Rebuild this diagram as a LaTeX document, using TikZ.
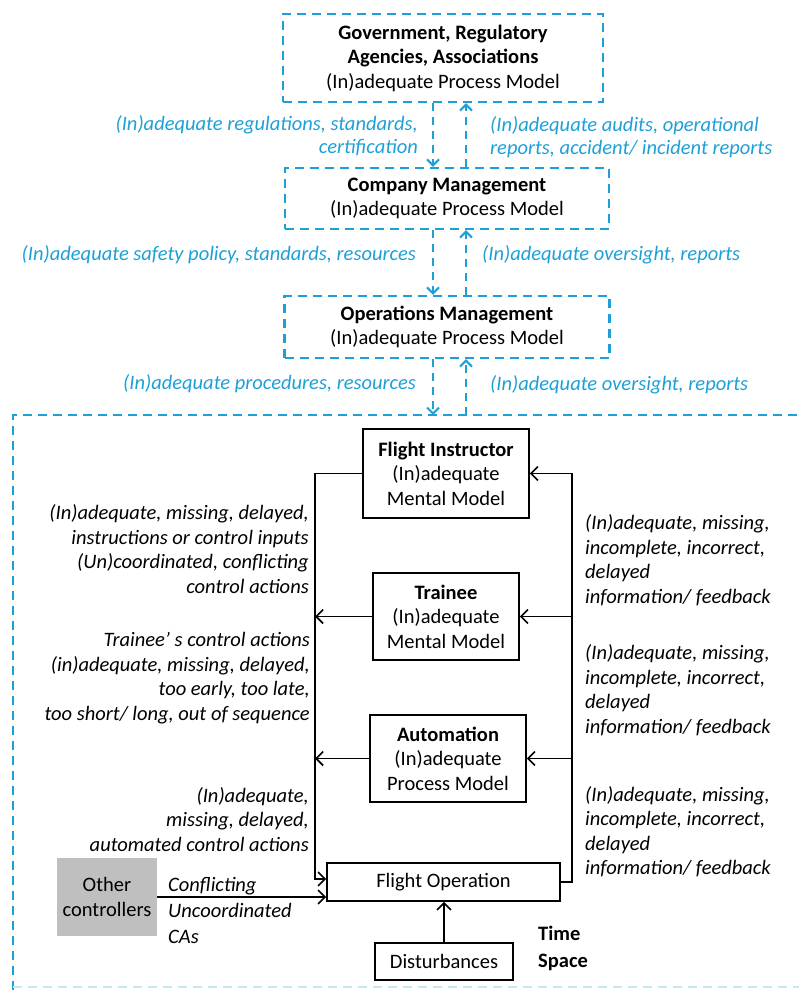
\documentclass[tikz,border=0pt]{standalone}
\usepackage{fontspec}
\setmainfont{Carlito}
\usetikzlibrary{arrows.meta,calc}
\definecolor{bl}{RGB}{30,160,215}
\definecolor{gr}{RGB}{191,191,191}
\tikzset{
 dbox/.style={draw=bl, line width=2.4pt, dash pattern=on 9pt off 6pt, align=center, inner sep=0pt},
 dline/.style={draw=bl, line width=2pt, dash pattern=on 8pt off 6pt, -{Straight Barb[length=6pt,width=12pt,line width=2pt]}},
 bbox/.style={draw, line width=1.6pt, align=center, inner sep=0pt},
 arr/.style={line width=1.6pt, -{Straight Barb[length=7pt,width=14pt,line width=1.6pt]}},
 plain/.style={line width=1.6pt},
 blab/.style={text=bl, font=\itshape\fontsize{20.5}{23}\selectfont, inner sep=0pt},
 klab/.style={font=\itshape\fontsize{20.5}{24.5}\selectfont, inner sep=0pt},
}
\begin{document}
\begin{tikzpicture}[x=1pt,y=-1pt, every node/.style={font=\fontsize{20.5}{24.5}\selectfont}]
\useasboundingbox (0,0) rectangle (798,990);

% coordinates for vertical arrows
\coordinate (xd) at (433,0);
\coordinate (xu) at (466,0);
\coordinate (bigtop) at (0,415);
\coordinate (lx) at (315,0);
\coordinate (rx) at (572,0);

% dashed management boxes
\node[dbox, minimum width=320pt, minimum height=88pt] (gov) at (443,58)
  {\textbf{Government, Regulatory}\\\textbf{Agencies, Associations}\\(In)adequate Process Model};
\node[dbox, minimum width=324pt, minimum height=61pt] (comp) at (447,198.5)
  {\textbf{Company Management}\\(In)adequate Process Model};
\node[dbox, minimum width=325pt, minimum height=62pt] (ops) at (447,327)
  {\textbf{Operations Management}\\(In)adequate Process Model};

% big dashed container
\draw[draw=bl, line width=2.4pt, dash pattern=on 9pt off 6pt] (13,990) -- (13,415) -- (800,415);
\draw[draw=bl!25, line width=2pt, dash pattern=on 9pt off 6pt] (13,987) -- (800,987);

% blue arrows
\draw[dline] (gov.south -| xd) -- (comp.north -| xd);
\draw[dline] (comp.north -| xu) -- (gov.south -| xu);
\draw[dline] (comp.south -| xd) -- (ops.north -| xd);
\draw[dline] (ops.north -| xu) -- (comp.south -| xu);
\draw[dline] (ops.south -| xd) -- (xd |- bigtop);
\draw[dline] (xu |- bigtop) -- (ops.south -| xu);

% blue labels
\node[blab, anchor=east, align=right] (l1) at (418,136) {(In)adequate regulations, standards,\\certification};
\node[blab, anchor=west, align=left] (l2) at (490,137) {(In)adequate audits, operational\\reports, accident/ incident reports};
\node[blab, anchor=east] (l3) at (416,255) {(In)adequate safety policy, standards, resources};
\node[blab, anchor=west] (l4) at (482,255) {(In)adequate oversight, reports};
\node[blab, anchor=east] (l5) at (416,384) {(In)adequate procedures, resources};
\node[blab, anchor=west] (l6) at (490,385) {(In)adequate oversight, reports};

% inner boxes
\node[bbox, minimum width=166pt, minimum height=89pt] (fi) at (446,473.5)
  {\textbf{Flight Instructor}\\(In)adequate\\Mental Model};
\node[bbox, minimum width=146pt, minimum height=87pt] (tr) at (446,616.5)
  {\textbf{Trainee}\\(In)adequate\\Mental Model};
\node[bbox, minimum width=156pt, minimum height=87pt] (au) at (448,758.5)
  {\textbf{Automation}\\(In)adequate\\Process Model};
\node[bbox, minimum width=233pt, minimum height=38pt] (fo) at (443.5,882)
  {Flight Operation};
\node[fill=gr, minimum width=100pt, minimum height=78pt, inner sep=0pt, align=center] (oc) at (107,897)
  {Other\\controllers};
\node[bbox, minimum width=138pt, minimum height=37pt] (di) at (444,961.5)
  {Disturbances};

% control loop
\draw[arr] (fi.west) -- (fi.west -| lx) -- ([yshift=3pt]fo.west -| lx) -- ([yshift=3pt]fo.west);
\draw[arr] (fo.east) -- (fo.east -| rx) -- (fi.east -| rx) -- (fi.east);
\draw[arr] (tr.west) -- (tr.west -| lx);
\draw[arr] (au.west) -- (au.west -| lx);
\draw[arr] (tr.east -| rx) -- (tr.east);
\draw[arr] (au.east -| rx) -- (au.east);
\draw[arr] (oc.east) -- (oc.east -| fo.west);
\draw[arr] (di.north) -- (di.north |- fo.south);

% black labels left
\node[klab, anchor=east, align=right] (la) at (309,549)
  {(In)adequate, missing, delayed,\\instructions or control inputs\\(Un)coordinated, conflicting\\control actions};
\node[klab, anchor=east, align=right] (lb) at (310,678)
  {Trainee’ s control actions\\(in)adequate, missing, delayed,\\too early, too late,\\too short/ long, out of sequence};
\node[klab, anchor=east, align=right] (lc) at (309,819.5)
  {(In)adequate,\\missing, delayed,\\automated control actions};

% black labels right
\node[klab, anchor=west, align=left] (ra) at (585,560)
  {(In)adequate, missing,\\incomplete, incorrect,\\delayed\\information/ feedback};
\node[klab, anchor=west, align=left] (rb) at (585,690)
  {(In)adequate, missing,\\incomplete, incorrect,\\delayed\\information/ feedback};
\node[klab, anchor=west, align=left] (rc) at (585,831.5)
  {(In)adequate, missing,\\incomplete, incorrect,\\delayed\\information/ feedback};

\node[klab, anchor=west, align=left, font=\itshape\fontsize{20.5}{26}\selectfont] (lo) at (168,910)
  {Conflicting\\Uncoordinated\\CAs};
\node[anchor=west, align=left, inner sep=0pt, font=\bfseries\fontsize{20.5}{27}\selectfont] (ts) at (538,948.5)
  {Time\\Space};
\end{tikzpicture}
\end{document}
